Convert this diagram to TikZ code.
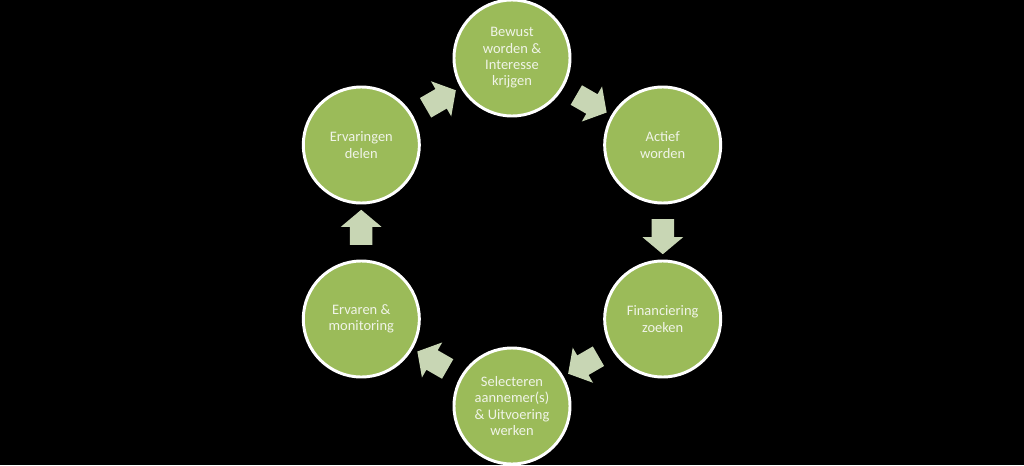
\documentclass[tikz,border=0pt]{standalone}
\usepackage{fontspec}
\setmainfont{Carlito}
\usepackage{tikz}
\usetikzlibrary{shapes,arrows,positioning,calc}
\usepackage{xcolor}
\definecolor{stagegreen}{RGB}{155,187,89}
\definecolor{arrowgreen}{RGB}{200,214,180}
\definecolor{textwhite}{RGB}{240,244,232}

\begin{document}
\begin{tikzpicture}[
    stage/.style={circle, draw=white, line width=2.1pt, fill=stagegreen, minimum size=2.9cm, inner sep=0pt, text=textwhite, font=\fontsize{10.3}{11.6}\selectfont, align=center},
    flow/.style={single arrow, draw=none, fill=arrowgreen, minimum height=0.875cm, single arrow head extend=0.225cm, single arrow tip angle=100, inner xsep=0pt, inner ysep=0.275cm}
]
    % Background
    \fill[black] (-12.8,-5.825) rectangle (12.8,5.8);
    \useasboundingbox (-12.8,-5.825) rectangle (12.8,5.8);

    % Stages
    \node[stage] (bewust) at (90:4.35) {Bewust\\worden \&\\Interesse\\krijgen};
    \node[stage] (actief) at (30:4.35) {Actief\\worden};
    \node[stage] (financiering) at (-30:4.35) {Financiering\\zoeken};
    \node[stage] (selecteren) at (-90:4.35) {Selecteren\\aannemer(s)\\\& Uitvoering\\werken};
    \node[stage] (ervaren) at (210:4.35) {Ervaren \&\\monitoring};
    \node[stage] (ervaringen) at (150:4.35) {Ervaringen\\delen};

    % Arrows
    \node[flow, rotate=-30] (a1) at (60:3.77) {};
    \node[flow, rotate=-90] (a2) at (0:3.77) {};
    \node[flow, rotate=-150] (a3) at (-60:3.77) {};
    \node[flow, rotate=150] (a4) at (-120:3.77) {};
    \node[flow, rotate=90] (a5) at (180:3.77) {};
    \node[flow, rotate=30] (a6) at (120:3.77) {};
\end{tikzpicture}
\end{document}
